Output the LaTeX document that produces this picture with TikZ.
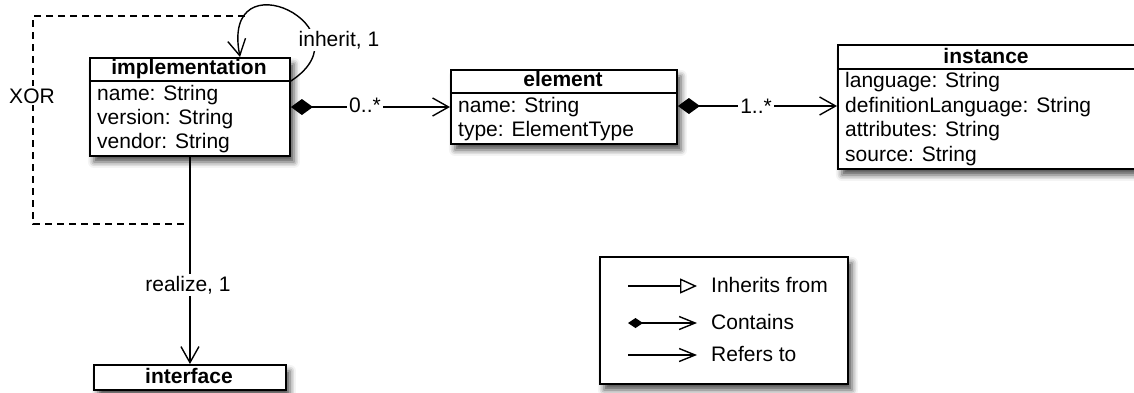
\documentclass[tikz,border=0pt]{standalone}
\usepackage{fontspec}
\setmainfont{Liberation Sans}
\usetikzlibrary{arrows.meta,shadows.blur,calc}
\begin{document}
\begin{tikzpicture}[x=1pt,y=-1pt,
  every node/.style={font=\fontsize{21}{24}\selectfont},
  classbox/.style={draw, line width=1.9pt, fill=white, inner sep=0pt, anchor=north west,
    blur shadow={shadow xshift=4pt, shadow yshift=-6pt, shadow blur radius=6pt, shadow opacity=70}},
  hdr/.style={anchor=base, font=\fontsize{21}{24}\selectfont\bfseries, inner sep=0pt},
  attr/.style={anchor=base west, inner sep=0pt},
  lbl/.style={anchor=base, fill=white, inner sep=2pt},
  conn/.style={line width=1.4pt},
  sep/.style={line width=1.9pt},
  comp/.style={conn, {Diamond[length=22pt,width=16pt]}-{Straight Barb[length=16pt,width=18pt]}},
  refer/.style={conn, -{Straight Barb[length=16pt,width=18pt]}},
  xorline/.style={conn, dash pattern=on 7pt off 5pt},
]
\useasboundingbox (0,0) rectangle (1134,392);

% implementation
\node[classbox, minimum width=200pt, minimum height=98pt] (impl) at (89,57) {};
\draw[sep] ($(impl.north west)+(0,24)$) -- ($(impl.north east)+(0,24)$);
\node[hdr] (implT) at (189,74) {implementation};
\node[attr] (impl1) at (97,100) {name: String};
\node[attr] (impl2) at (97,124.5) {version: String};
\node[attr] (impl3) at (97,148.5) {vendor: String};

% element
\node[classbox, minimum width=226pt, minimum height=74pt] (elem) at (450,69) {};
\draw[sep] ($(elem.north west)+(0,24)$) -- ($(elem.north east)+(0,24)$);
\node[hdr] (elemT) at (563,86) {element};
\node[attr] (elem1) at (458,112) {name: String};
\node[attr] (elem2) at (458,136) {type: ElementType};

% instance
\node[classbox, minimum width=298pt, minimum height=124pt] (inst) at (837,44) {};
\draw[sep] ($(inst.north west)+(0,25)$) -- ($(inst.north east)+(0,25)$);
\node[hdr] (instT) at (986,63) {instance};
\node[attr] (inst1) at (845,87) {language: String};
\node[attr] (inst2) at (845,112) {definitionLanguage: String};
\node[attr] (inst3) at (845,136) {attributes: String};
\node[attr] (inst4) at (845,161) {source: String};

% interface
\node[classbox, minimum width=192pt, minimum height=25pt] (iface) at (93,364) {};
\node[hdr] (ifaceT) at (189,383) {interface};

% legend
\node[classbox, minimum width=248pt, minimum height=127pt] (legend) at (599,256) {};

% connectors
\coordinate (c1) at ($(impl.north east)+(0,50)$);
\draw[comp] (c1) -- (c1 -| elem.west);
\node[lbl] (m1) at (365,112) {0..*};

\coordinate (c2) at ($(elem.north east)+(0,37)$);
\draw[comp] (c2) -- (c2 -| inst.west);
\node[lbl] (m2) at (756,113) {1..*};

\coordinate (s0) at ($(impl.north east)+(0,24)$);
\coordinate (s1) at ($(impl.north west)+(151,0)$);
\draw[refer] (s0) .. controls (372,28) and (220,-46) .. (s1);
\node[lbl] (inh) at (339,46) {inherit, 1};

\coordinate (d0) at (245,16);
\coordinate (d1) at (33,16);
\coordinate (d2) at (33,224);
\draw[xorline] (d0) -- (d1) -- (d2) -- (d2 -| impl.south);
\node[lbl] (xor) at (32,103) {XOR};

\draw[refer] (impl.south) -- (iface.north);
\node[lbl] (real) at (188,291) {realize, 1};

% legend content
\coordinate (la1) at (628,286); \coordinate (lb1) at (697,286);
\coordinate (la2) at (628,323); \coordinate (lb2) at (697,323);
\coordinate (la3) at (628,355); \coordinate (lb3) at (697,355);
\draw[conn, -{Triangle[open,length=17pt,width=15pt]}] (la1) -- (lb1);
\draw[conn, {Diamond[length=15pt,width=10pt]}-{Straight Barb[length=16pt,width=13pt]}] (la2) -- (lb2);
\draw[conn, -{Straight Barb[length=16pt,width=13pt]}] (la3) -- (lb3);
\node[attr] (lt1) at (711,292) {Inherits from};
\node[attr] (lt2) at (711,329) {Contains};
\node[attr] (lt3) at (711,361) {Refers to};
\end{tikzpicture}
\end{document}
